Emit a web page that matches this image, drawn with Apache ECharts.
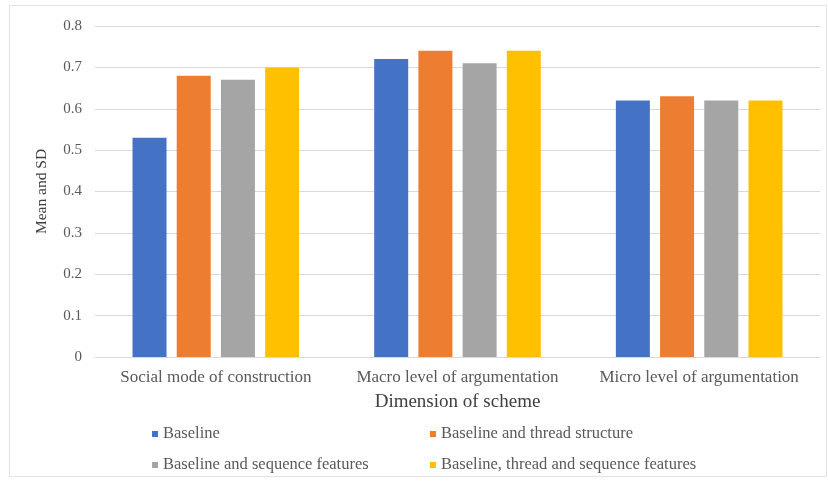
<!DOCTYPE html>
<html>
<head>
<meta charset="utf-8">
<script src="https://cdn.jsdelivr.net/npm/echarts@6/dist/echarts.min.js"></script>
<style>
  html, body { margin: 0; padding: 0; background: #ffffff; }
  #chart { width: 828px; height: 483px; }
</style>
</head>
<body>
<div id="chart"></div>
<script>
// Dimensions of the coding scheme (x-axis categories)
const categories = [
  'Social mode of construction',
  'Macro level of argumentation',
  'Micro level of argumentation'
];

// Mean values per model configuration
const baseline = [0.53, 0.72, 0.62];
const baselineThread = [0.68, 0.74, 0.63];
const baselineSequence = [0.67, 0.71, 0.62];
const baselineThreadSequence = [0.70, 0.74, 0.62];

const seriesNames = [
  'Baseline',
  'Baseline and thread structure',
  'Baseline and sequence features',
  'Baseline, thread and sequence features'
];
const seriesValues = [baseline, baselineThread, baselineSequence, baselineThreadSequence];
const seriesColors = ['#4472C4', '#ED7D31', '#A5A5A5', '#FFC000'];

const yTicks = [0, 0.1, 0.2, 0.3, 0.4, 0.5, 0.6, 0.7, 0.8];

const fontFamily = '"Liberation Serif", "Times New Roman", serif';
const textColor = '#595959';

const chart = echarts.init(document.getElementById('chart'), null, { renderer: 'canvas' });

const legendCommon = {
  orient: 'vertical',
  icon: 'rect',
  itemWidth: 6,
  itemHeight: 6,
  itemGap: 13,
  top: 420,
  textStyle: { fontFamily: fontFamily, fontSize: 16.5, color: textColor, lineHeight: 18 }
};

chart.setOption({
  animation: false,
  backgroundColor: '#ffffff',
  graphic: [{
    type: 'rect',
    shape: { x: 9.5, y: 5.5, width: 817, height: 471 },
    style: { fill: 'none', stroke: '#e3e3e3', lineWidth: 1 },
    silent: true,
    z: -1
  }],
  grid: { left: 95, right: 8, top: 26, bottom: 126, containLabel: false },
  legend: [
    Object.assign({}, legendCommon, { left: 147, data: [seriesNames[0], seriesNames[2]] }),
    Object.assign({}, legendCommon, { left: 425, data: [seriesNames[1], seriesNames[3]] })
  ],
  xAxis: {
    type: 'category',
    data: categories,
    name: 'Dimension of scheme',
    nameLocation: 'middle',
    nameGap: 36,
    nameTextStyle: { fontFamily: fontFamily, fontSize: 19, color: '#404040' },
    axisLine: { show: true, lineStyle: { color: '#d9d9d9', width: 1 } },
    axisTick: { show: false },
    axisLabel: { fontFamily: fontFamily, fontSize: 17, color: textColor, margin: 12, interval: 0 }
  },
  yAxis: {
    type: 'value',
    min: yTicks[0],
    max: yTicks[yTicks.length - 1],
    interval: 0.1,
    name: 'Mean and SD',
    nameLocation: 'middle',
    nameRotate: 90,
    nameGap: 45,
    nameTextStyle: { fontFamily: fontFamily, fontSize: 15.5, color: '#404040' },
    axisLine: { show: false },
    axisTick: { show: false },
    axisLabel: {
      fontFamily: fontFamily, fontSize: 15, color: textColor, margin: 13,
      formatter: function (v) { return String(Math.round(v * 10) / 10); }
    },
    splitLine: { show: true, lineStyle: { color: '#d9d9d9', width: 1 } }
  },
  series: seriesNames.map(function (name, i) {
    return {
      name: name,
      type: 'bar',
      data: seriesValues[i],
      barWidth: 34,
      barGap: '30%',
      itemStyle: { color: seriesColors[i] }
    };
  })
});
</script>
</body>
</html>
